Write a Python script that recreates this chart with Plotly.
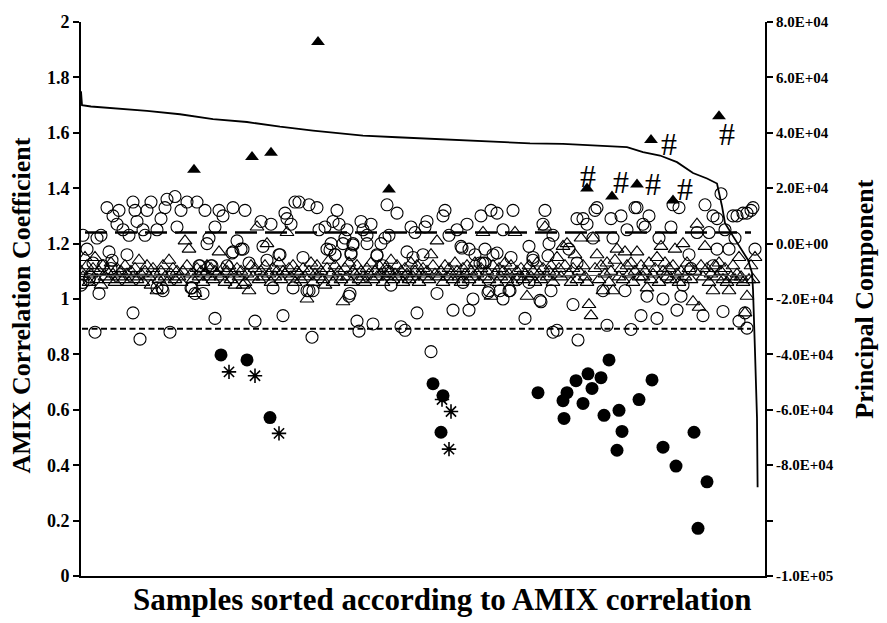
import plotly.graph_objects as go

# ---------------- data ----------------
# open triangles: one per sample (sample index 0..337)
tri_y = [
    1.10, 1.08, 1.15, 1.12, 1.06, 1.09, 1.11, 1.15, 1.07, 1.10,
    1.05, 1.12, 1.08, 1.10, 1.07, 1.13, 1.09, 1.06, 1.11, 1.08,
    1.10, 1.07, 1.12, 1.09, 1.06, 1.10, 1.08, 1.11, 1.07, 1.14,
    1.09, 1.06, 1.10, 1.12, 1.08, 1.05, 1.11, 1.09, 1.03, 1.07,
    1.10, 1.12, 1.08, 1.06, 1.14, 1.09, 1.11, 1.07, 1.10, 1.08,
    1.06, 1.10, 1.21, 1.12, 1.18, 1.09, 1.07, 1.02, 1.11, 1.08,
    1.10, 1.06, 1.09, 1.12, 1.08, 1.11, 1.07, 1.10, 1.09, 1.17,
    1.08, 1.11, 1.06, 1.10, 1.12, 1.07, 1.09, 1.05, 1.11, 1.08,
    1.10, 1.05, 1.06, 1.09, 1.03, 1.12, 1.08, 1.11, 1.26, 1.07,
    1.10, 1.08, 1.12, 1.20, 1.09, 1.06, 1.11, 1.08, 1.10, 1.13,
    1.07, 1.10, 1.09, 1.24, 1.11, 1.08, 1.12, 1.06, 1.10, 1.09,
    1.07, 1.11, 1.08, 1.00, 1.10, 1.13, 1.06, 1.09, 1.12, 1.08,
    1.10, 1.07, 1.05, 1.11, 1.14, 1.09, 1.06, 1.12, 1.08, 1.10,
    1.07, 0.99, 1.11, 1.08, 1.13, 1.06, 1.10, 1.09, 1.12, 1.07,
    1.10, 1.08, 1.06, 1.11, 1.09, 1.13, 1.07, 1.10, 1.08, 1.12,
    1.09, 1.06, 1.11, 1.08, 1.10, 1.14, 1.07, 1.09, 1.12, 1.08,
    1.10, 1.06, 1.11, 1.09, 1.07, 1.13, 1.08, 1.10, 1.12, 1.06,
    1.09, 1.11, 1.08, 1.10, 1.07, 1.16, 1.12, 1.09, 1.21, 1.08,
    1.10, 1.06, 1.12, 1.08, 1.11, 1.09, 1.07, 1.13, 1.10, 1.08,
    1.06, 1.11, 1.09, 1.12, 1.07, 1.10, 1.08, 1.13, 1.09, 1.06,
    1.11, 1.24, 1.08, 1.10, 1.07, 1.01, 1.12, 1.09, 1.06, 1.11,
    1.08, 1.10, 1.13, 1.07, 1.09, 1.12, 1.06, 1.24, 1.10, 1.08,
    1.11, 1.07, 1.09, 1.01, 1.12, 1.08, 1.10, 1.06, 1.13, 1.09,
    1.07, 1.11, 1.26, 1.08, 1.10, 1.12, 1.06, 1.09, 1.15, 1.11,
    1.08, 1.19, 1.12, 1.20, 1.09, 1.06, 1.11, 1.16, 1.07, 1.10,
    1.22, 1.12, 1.08, 1.06, 0.98, 0.94, 1.22, 1.11, 1.16, 1.07,
    1.12, 1.03, 1.09, 1.13, 1.06, 1.10, 1.03, 1.14, 1.18, 1.08,
    1.11, 1.07, 1.17, 1.12, 1.09, 1.13, 1.06, 1.10, 1.17, 1.08,
    1.12, 1.08, 1.10, 1.04, 1.13, 1.07, 1.09, 1.11, 1.15, 1.06,
    1.19, 1.10, 1.13, 1.08, 1.11, 1.07, 1.12, 1.18, 1.09, 1.06,
    1.10, 1.20, 1.08, 1.13, 1.11, 1.07, 0.99, 1.10, 1.27, 0.97,
    1.12, 1.08, 1.19, 1.11, 1.06, 1.09, 1.03, 1.12, 1.08, 1.13,
    1.10, 1.07, 1.11, 1.06, 1.03, 1.08, 1.12, 1.07, 1.09, 1.15,
    1.08, 1.06, 0.95, 1.01, 1.07, 1.12, 1.07, 1.15,
]
tri_x = list(range(len(tri_y)))

# open circles: (sample index, AMIX correlation)
circ_x = [
    0, 1, 1, 3, 4, 4.5, 6, 7, 8, 9, 10, 11, 13, 14, 15, 15.5, 16, 18, 19, 21,
    23, 24, 26, 26, 27, 28, 29.5, 31, 32, 33, 35, 38, 38, 40, 40.5, 41, 42, 43, 44.5, 47,
    48, 50, 53, 55, 55.5, 57, 58, 59, 59.5, 61, 62, 63, 64, 65, 65.5, 67, 67, 69, 71, 73,
    75.5, 76, 76, 78, 80, 81, 82, 84, 87, 90, 91, 93, 95, 96, 99, 99.5, 101, 102, 103, 105,
    106, 107, 109, 111, 113, 114, 114, 115.5, 116, 118, 119, 122, 123, 124.5, 125, 126, 127, 127, 128, 129,
    131, 132, 133, 134, 134.5, 135, 135, 136, 136, 138, 139, 140, 141, 143, 143, 145, 146, 148, 148, 150,
    151, 152, 153, 153.5, 154, 155, 158, 160, 162, 163, 163, 165, 166, 167, 168, 171, 172, 173, 175, 178,
    181, 182, 184, 186, 188, 190, 190.5, 191, 193, 194, 194, 196, 197, 199.5, 200, 201, 202, 202, 203.5, 204,
    205, 206, 208, 208, 209.5, 211, 211, 214, 214.5, 215, 216, 218, 222, 224, 224, 226, 226, 229.5, 230, 231,
    232, 233.5, 234, 235, 236, 236, 238, 244, 246, 248, 248, 248.5, 251, 253, 256, 257, 258, 261, 263, 265,
    266, 270, 272, 273, 275, 277, 278, 280, 281, 282, 283, 284, 288, 289, 291, 293, 295, 296, 298, 299,
    300, 301, 304, 305, 308, 311, 312, 314, 316, 316, 318, 318, 320, 321, 322, 324, 326, 327, 328, 329,
    331, 332, 333, 333, 335, 336, 337,
]
circ_y = [
    1.05, 1.23, 1.06, 1.18, 1.07, 1.08, 1.13, 0.88, 1.22, 1.02, 1.23, 1.12, 1.33, 1.17, 1.11, 1.14, 1.30, 1.27, 1.32, 1.25,
    1.16, 1.23, 0.95, 1.35, 1.32, 1.28, 0.855, 1.25, 1.23, 1.32, 1.35, 1.25, 1.04, 1.29, 1.04, 1.03, 1.33, 1.36, 0.88, 1.37,
    1.26, 1.32, 1.35, 1.04, 1.04, 1.02, 1.35, 1.12, 1.12, 1.02, 1.32, 1.20, 1.22, 1.12, 1.12, 0.93, 1.26, 1.32, 1.30, 1.12,
    1.166, 1.33, 1.17, 1.21, 1.18, 1.18, 1.32, 1.13, 0.92, 1.28, 1.19, 1.14, 1.27, 1.04, 1.16, 1.16, 0.94, 1.31, 1.29, 1.27,
    1.04, 1.35, 1.35, 1.15, 1.03, 1.34, 1.03, 0.862, 1.03, 1.33, 1.25, 1.26, 1.18, 1.177, 1.20, 1.28, 1.16, 1.16, 1.32, 1.27,
    1.20, 1.22, 1.25, 1.01, 1.02, 1.16, 1.166, 1.20, 1.195, 0.92, 0.884, 1.28, 1.25, 1.23, 1.20, 1.27, 0.91, 1.16, 1.156, 1.20,
    1.12, 1.22, 1.34, 1.10, 1.23, 1.05, 1.31, 0.90, 0.887, 1.17, 1.08, 1.26, 1.15, 1.24, 0.95, 1.16, 1.26, 1.28, 0.81, 1.02,
    1.30, 1.32, 1.23, 0.96, 1.25, 1.19, 1.184, 1.06, 1.27, 1.18, 0.96, 1.00, 1.16, 1.13, 1.30, 1.13, 1.18, 1.13, 1.023, 1.03,
    1.32, 1.16, 1.31, 1.166, 1.03, 1.25, 1.00, 1.03, 1.03, 1.15, 1.32, 1.07, 0.93, 1.19, 1.06, 1.15, 1.14, 0.995, 0.99, 1.27,
    1.32, 1.156, 1.20, 1.03, 1.23, 0.88, 0.887, 1.18, 0.98, 1.29, 1.13, 0.852, 1.29, 1.27, 1.22, 1.32, 1.33, 1.03, 0.905, 1.29,
    1.22, 1.30, 1.03, 1.25, 0.89, 1.33, 1.33, 0.94, 1.27, 1.26, 1.01, 1.30, 0.93, 1.22, 1.00, 1.08, 1.26, 1.34, 0.96, 1.33,
    1.01, 1.05, 1.16, 1.11, 1.24, 0.94, 1.34, 1.24, 1.30, 1.12, 1.29, 1.18, 1.38, 0.955, 1.25, 1.18, 1.30, 1.22, 1.30, 0.92,
    1.31, 0.95, 1.31, 0.895, 1.32, 1.33, 1.18,
]

# filled circles (low AMIX correlation)
fc_x = [70, 83, 94.5, 176, 181, 180, 228.5, 243, 241, 241.5, 247.5, 253.5, 260, 255.5,
        251, 264, 261.5, 269, 270.5, 268, 279, 285.5, 291, 297.5, 306.5, 313, 308.5]
fc_y = [0.798, 0.78, 0.572, 0.694, 0.651, 0.519, 0.662, 0.662, 0.633, 0.569, 0.705, 0.73, 0.716, 0.677,
        0.623, 0.78, 0.58, 0.598, 0.522, 0.454, 0.637, 0.708, 0.465, 0.397, 0.519, 0.34, 0.172]

# filled triangles (high values)
ft_x = [56.5, 85.5, 95, 118.5, 154, 253, 265.5, 278, 285, 296, 319]
ft_y = [1.467, 1.513, 1.528, 1.928, 1.395, 1.399, 1.37, 1.413, 1.574, 1.356, 1.66]

# annotation symbols
ast_x = [74, 87, 99, 180.5, 185, 184]
ast_y = [0.737, 0.723, 0.515, 0.637, 0.594, 0.458]
hash_x = [253.5, 270, 286, 294, 302, 323]
hash_y = [1.435, 1.41, 1.406, 1.549, 1.388, 1.585]

# principal component curve (right axis)
pc_x = [0, 0.5, 5, 16, 33, 49.5, 66, 83, 99.5, 116, 124.5, 141, 158, 174.5, 191, 208,
        224.5, 241, 256, 273, 281, 289.5, 298, 306, 313, 318, 320.5, 322, 326, 330.5,
        333.5, 335.5, 336, 337, 338, 338.3]
pc_y = [5.5e4, 5.0e4, 4.95e4, 4.89e4, 4.79e4, 4.67e4, 4.49e4, 4.39e4, 4.22e4, 4.08e4,
        4.02e4, 3.90e4, 3.84e4, 3.78e4, 3.74e4, 3.68e4, 3.62e4, 3.60e4, 3.55e4, 3.48e4,
        3.30e4, 3.18e4, 2.94e4, 2.55e4, 2.35e4, 2.17e4, 1.35e4, 0.74e4, 0.27e4, -0.23e4,
        -0.59e4, -1.05e4, -1.66e4, -3.9e4, -6.3e4, -8.8e4]

upper_threshold = 1.24
lower_threshold = 0.893
band_level = 1.085

left_ticks = [0, 0.2, 0.4, 0.6, 0.8, 1, 1.2, 1.4, 1.6, 1.8, 2]
right_ticks = [-1.2e5, -1.0e5, -8.0e4, -6.0e4, -4.0e4, -2.0e4, 0, 2.0e4, 4.0e4, 6.0e4, 8.0e4]
right_labels = ["-1.0E+05", "", "-8.0E+04", "-6.0E+04", "-4.0E+04", "-2.0E+04",
                "0.0E+00", "2.0E+04", "4.0E+04", "6.0E+04", "8.0E+04"]

# ---------------- figure ----------------
SERIF = "Liberation Serif"
fig = go.Figure()

fig.add_trace(go.Scatter(x=tri_x, y=tri_y, mode="markers",
                         marker=dict(symbol="triangle-up-open", size=12, color="black",
                                     line=dict(width=1.1, color="black")),
                         showlegend=False))
fig.add_trace(go.Scatter(x=circ_x, y=circ_y, mode="markers",
                         marker=dict(symbol="circle-open", size=12, color="black",
                                     line=dict(width=1.1, color="black")),
                         showlegend=False))
fig.add_trace(go.Scatter(x=ast_x, y=ast_y, mode="markers",
                         marker=dict(symbol="asterisk-open", size=12, color="black",
                                     line=dict(width=1.6, color="black")),
                         showlegend=False))
fig.add_trace(go.Scatter(x=fc_x, y=fc_y, mode="markers",
                         marker=dict(symbol="circle", size=13, color="black"),
                         showlegend=False))
fig.add_trace(go.Scatter(x=ft_x, y=ft_y, mode="markers",
                         marker=dict(symbol="triangle-up", size=12, color="black"),
                         showlegend=False))
fig.add_trace(go.Scatter(x=hash_x, y=hash_y, mode="text", text=["#"] * len(hash_x),
                         textposition="middle center",
                         textfont=dict(family=SERIF, size=32, color="#000000"),
                         showlegend=False))
fig.add_trace(go.Scatter(x=pc_x, y=pc_y, mode="lines", yaxis="y2",
                         line=dict(color="black", width=1.8),
                         showlegend=False))

fig.add_shape(type="line", xref="x", yref="y", x0=2, x1=335,
              y0=upper_threshold, y1=upper_threshold,
              line=dict(color="black", width=2.5, dash="22px,8px"))
fig.add_shape(type="line", xref="x", yref="y", x0=0.5, x1=335,
              y0=lower_threshold, y1=lower_threshold,
              line=dict(color="black", width=2, dash="6px,3.5px"))
fig.add_shape(type="line", xref="x", yref="y", x0=2, x1=335,
              y0=band_level, y1=band_level,
              line=dict(color="#555555", width=1))

tickfont = dict(family=SERIF, size=18, color="black", weight="bold")
fig.update_layout(
    width=887, height=623,
    margin=dict(l=81, r=122, t=17, b=47),
    paper_bgcolor="white", plot_bgcolor="white",
    xaxis=dict(range=[0, 342], showline=True, linecolor="black", linewidth=2,
               showticklabels=False, ticks="", showgrid=False, zeroline=False),
    yaxis=dict(range=[0, 2], tickvals=left_ticks, showline=True, linecolor="black",
               linewidth=2, ticks="outside", ticklen=6, tickwidth=2, tickcolor="black",
               showgrid=False, zeroline=False, tickfont=tickfont),
    yaxis2=dict(range=[-1.2e5, 8.0e4], overlaying="y", side="right",
                tickvals=right_ticks, ticktext=right_labels, showline=True,
                linecolor="black", linewidth=2, ticks="outside", ticklen=6, tickwidth=2,
                tickcolor="black", showgrid=False, zeroline=False,
                tickfont=dict(family=SERIF, size=15, color="black", weight="bold")),
    annotations=[
        dict(text="<b>Samples sorted according to AMIX correlation</b>", xref="paper",
             yref="paper", x=0.528, y=-0.043, xanchor="center", yanchor="middle",
             showarrow=False, font=dict(family=SERIF, size=31, color="black")),
        dict(text="<b>AMIX Correlation Coefficient</b>", xref="paper", yref="paper",
             x=-0.0863, y=0.488, xanchor="center", yanchor="middle", textangle=-90,
             showarrow=False, font=dict(family=SERIF, size=26, color="black")),
        dict(text="<b>Principal Component</b>", xref="paper", yref="paper",
             x=1.145, y=0.499, xanchor="center", yanchor="middle", textangle=-90,
             showarrow=False, font=dict(family=SERIF, size=26, color="black")),
    ],
)

fig.write_html("out.html")
